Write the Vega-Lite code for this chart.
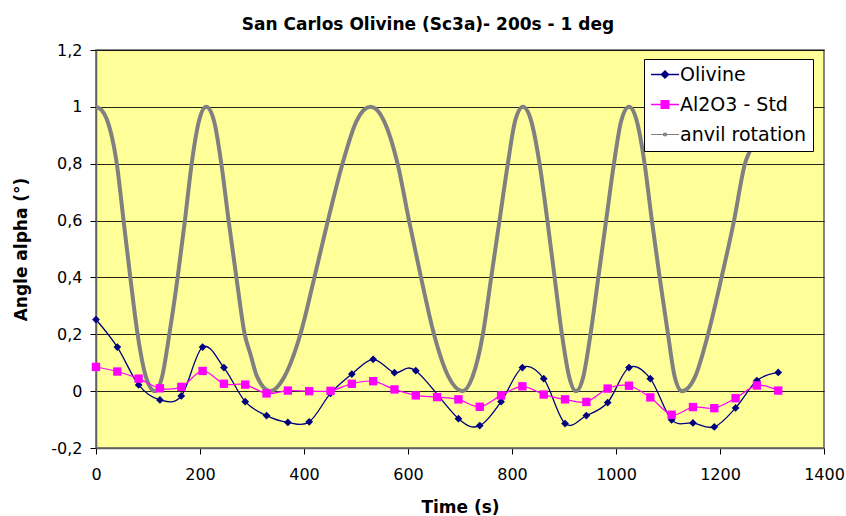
{
  "$schema": "https://vega.github.io/schema/vega-lite/v6.json",
  "autosize": {"type": "none"},
  "width": 728,
  "height": 398,
  "padding": {"left": 96, "top": 50, "right": 22, "bottom": 68},
  "background": "white",
  "title": {
    "text": "San Carlos Olivine (Sc3a)- 200s - 1 deg",
    "font": "DejaVu Sans",
    "fontSize": 17,
    "fontWeight": "bold",
    "color": "black",
    "anchor": "middle",
    "dx": -32,
    "offset": 8
  },
  "config": {
    "view": {"fill": "#FFFF99", "stroke": "#606060", "strokeWidth": 1.5},
    "axis": {
      "labelFont": "DejaVu Sans",
      "labelFontSize": 16,
      "labelColor": "black",
      "titleFont": "DejaVu Sans",
      "titleFontSize": 17,
      "titleFontWeight": "bold",
      "titleColor": "black",
      "tickColor": "black",
      "tickSize": 6,
      "domainColor": "#606060",
      "domainWidth": 1.5
    }
  },
  "datasets": {
    "obs": [
      {"series": "Olivine", "t": 0, "v": 0.252},
      {"series": "Olivine", "t": 41, "v": 0.155},
      {"series": "Olivine", "t": 82, "v": 0.022},
      {"series": "Olivine", "t": 123, "v": -0.031},
      {"series": "Olivine", "t": 164, "v": -0.017},
      {"series": "Olivine", "t": 205, "v": 0.155},
      {"series": "Olivine", "t": 246, "v": 0.083},
      {"series": "Olivine", "t": 287, "v": -0.037},
      {"series": "Olivine", "t": 328, "v": -0.086},
      {"series": "Olivine", "t": 369, "v": -0.11},
      {"series": "Olivine", "t": 410, "v": -0.108},
      {"series": "Olivine", "t": 451, "v": -0.008},
      {"series": "Olivine", "t": 492, "v": 0.06},
      {"series": "Olivine", "t": 533, "v": 0.112},
      {"series": "Olivine", "t": 574, "v": 0.065},
      {"series": "Olivine", "t": 615, "v": 0.072},
      {"series": "Olivine", "t": 697, "v": -0.097},
      {"series": "Olivine", "t": 738, "v": -0.121},
      {"series": "Olivine", "t": 779, "v": -0.037},
      {"series": "Olivine", "t": 820, "v": 0.083},
      {"series": "Olivine", "t": 861, "v": 0.044},
      {"series": "Olivine", "t": 902, "v": -0.114},
      {"series": "Olivine", "t": 943, "v": -0.086},
      {"series": "Olivine", "t": 984, "v": -0.04},
      {"series": "Olivine", "t": 1025, "v": 0.083},
      {"series": "Olivine", "t": 1066, "v": 0.044},
      {"series": "Olivine", "t": 1107, "v": -0.101},
      {"series": "Olivine", "t": 1148, "v": -0.112},
      {"series": "Olivine", "t": 1189, "v": -0.126},
      {"series": "Olivine", "t": 1230, "v": -0.059},
      {"series": "Olivine", "t": 1271, "v": 0.037},
      {"series": "Olivine", "t": 1312, "v": 0.066},
      {"series": "Al2O3 - Std", "t": 0, "v": 0.085},
      {"series": "Al2O3 - Std", "t": 41, "v": 0.069},
      {"series": "Al2O3 - Std", "t": 82, "v": 0.044},
      {"series": "Al2O3 - Std", "t": 123, "v": 0.01},
      {"series": "Al2O3 - Std", "t": 164, "v": 0.015},
      {"series": "Al2O3 - Std", "t": 205, "v": 0.071},
      {"series": "Al2O3 - Std", "t": 246, "v": 0.026},
      {"series": "Al2O3 - Std", "t": 287, "v": 0.023},
      {"series": "Al2O3 - Std", "t": 328, "v": -0.008},
      {"series": "Al2O3 - Std", "t": 369, "v": 0.002},
      {"series": "Al2O3 - Std", "t": 410, "v": 0.0},
      {"series": "Al2O3 - Std", "t": 451, "v": 0.001},
      {"series": "Al2O3 - Std", "t": 492, "v": 0.026},
      {"series": "Al2O3 - Std", "t": 533, "v": 0.035},
      {"series": "Al2O3 - Std", "t": 574, "v": 0.006},
      {"series": "Al2O3 - Std", "t": 615, "v": -0.015},
      {"series": "Al2O3 - Std", "t": 656, "v": -0.021},
      {"series": "Al2O3 - Std", "t": 697, "v": -0.029},
      {"series": "Al2O3 - Std", "t": 738, "v": -0.055},
      {"series": "Al2O3 - Std", "t": 779, "v": -0.015},
      {"series": "Al2O3 - Std", "t": 820, "v": 0.017},
      {"series": "Al2O3 - Std", "t": 861, "v": -0.012},
      {"series": "Al2O3 - Std", "t": 902, "v": -0.029},
      {"series": "Al2O3 - Std", "t": 943, "v": -0.038},
      {"series": "Al2O3 - Std", "t": 984, "v": 0.009},
      {"series": "Al2O3 - Std", "t": 1025, "v": 0.019},
      {"series": "Al2O3 - Std", "t": 1066, "v": -0.022},
      {"series": "Al2O3 - Std", "t": 1107, "v": -0.083},
      {"series": "Al2O3 - Std", "t": 1148, "v": -0.056},
      {"series": "Al2O3 - Std", "t": 1189, "v": -0.06},
      {"series": "Al2O3 - Std", "t": 1230, "v": -0.025},
      {"series": "Al2O3 - Std", "t": 1271, "v": 0.02},
      {"series": "Al2O3 - Std", "t": 1312, "v": 0.002}
    ],
    "anvil": [
      {"t": 0, "v": 1.0}, {"t": 10, "v": 0.99}, {"t": 20, "v": 0.96}, {"t": 40, "v": 0.8},
      {"t": 53, "v": 0.6}, {"t": 66, "v": 0.4}, {"t": 80, "v": 0.2}, {"t": 96, "v": 0.05},
      {"t": 113, "v": 0.0}, {"t": 127, "v": 0.05}, {"t": 141, "v": 0.2}, {"t": 157, "v": 0.4},
      {"t": 171, "v": 0.6}, {"t": 184, "v": 0.8}, {"t": 198, "v": 0.95}, {"t": 212, "v": 1.0},
      {"t": 227, "v": 0.95}, {"t": 241, "v": 0.8}, {"t": 255, "v": 0.6}, {"t": 270, "v": 0.4},
      {"t": 286, "v": 0.2}, {"t": 297, "v": 0.13}, {"t": 310, "v": 0.05}, {"t": 335, "v": 0.0},
      {"t": 362, "v": 0.05}, {"t": 393, "v": 0.2}, {"t": 420, "v": 0.4}, {"t": 446, "v": 0.6},
      {"t": 474, "v": 0.8}, {"t": 501, "v": 0.95}, {"t": 528, "v": 1.0}, {"t": 554, "v": 0.95},
      {"t": 580, "v": 0.8}, {"t": 602, "v": 0.6}, {"t": 625, "v": 0.4}, {"t": 650, "v": 0.2},
      {"t": 678, "v": 0.05}, {"t": 705, "v": 0.0}, {"t": 724, "v": 0.05}, {"t": 744, "v": 0.2},
      {"t": 760, "v": 0.4}, {"t": 776, "v": 0.6}, {"t": 792, "v": 0.8}, {"t": 806, "v": 0.95},
      {"t": 821, "v": 1.0}, {"t": 837, "v": 0.95}, {"t": 853, "v": 0.8}, {"t": 868, "v": 0.6},
      {"t": 882, "v": 0.4}, {"t": 896, "v": 0.2}, {"t": 910, "v": 0.05}, {"t": 923, "v": 0.0},
      {"t": 937, "v": 0.05}, {"t": 951, "v": 0.2}, {"t": 966, "v": 0.4}, {"t": 981, "v": 0.6},
      {"t": 996, "v": 0.8}, {"t": 1010, "v": 0.95}, {"t": 1025, "v": 1.0}, {"t": 1040, "v": 0.95},
      {"t": 1055, "v": 0.8}, {"t": 1069, "v": 0.6}, {"t": 1084, "v": 0.4}, {"t": 1100, "v": 0.2},
      {"t": 1113, "v": 0.05}, {"t": 1127, "v": 0.0}, {"t": 1152, "v": 0.05}, {"t": 1177, "v": 0.2},
      {"t": 1203, "v": 0.4}, {"t": 1227, "v": 0.6}, {"t": 1248, "v": 0.8}, {"t": 1261, "v": 0.86},
      {"t": 1275, "v": 0.93}, {"t": 1290, "v": 0.99}, {"t": 1305, "v": 1.0}, {"t": 1312, "v": 0.995}
    ]
  },
  "layer": [
    {
      "data": {"name": "anvil"},
      "mark": {"type": "line", "color": "#808080", "strokeWidth": 4, "interpolate": "monotone"},
      "encoding": {
        "x": {
          "field": "t", "type": "quantitative",
          "scale": {"domain": [0, 1400], "nice": false, "zero": false},
          "axis": {
            "values": [0, 200, 400, 600, 800, 1000, 1200, 1400],
            "format": "d",
            "grid": false,
            "title": "Time (s)",
            "labelPadding": 12,
            "titlePadding": 17,
            "labelFlush": false
          }
        },
        "y": {
          "field": "v", "type": "quantitative",
          "scale": {"domain": [-0.2, 1.2], "nice": false, "zero": false},
          "axis": {
            "values": [-0.2, 0, 0.2, 0.4, 0.6, 0.8, 1, 1.2],
            "grid": true,
            "gridColor": "black",
            "gridWidth": 1,
            "gridOpacity": 0.85,
            "title": "Angle alpha (°)",
            "labelPadding": 8,
            "titlePadding": 20,
            "labelExpr": "replace(replace(format(datum.value, '.2~f'), '.', ','), '−', '-')"
          }
        }
      }
    },
    {
      "data": {"name": "obs"},
      "transform": [{"filter": "datum.series === 'Olivine'"}],
      "mark": {"type": "line", "color": "#000080", "strokeWidth": 1.3, "interpolate": "cardinal"},
      "encoding": {
        "x": {"field": "t", "type": "quantitative"},
        "y": {"field": "v", "type": "quantitative"}
      }
    },
    {
      "data": {"name": "obs"},
      "transform": [{"filter": "datum.series === 'Olivine'"}],
      "mark": {"type": "point", "shape": "diamond", "filled": true, "color": "#000080", "size": 60, "opacity": 1},
      "encoding": {
        "x": {"field": "t", "type": "quantitative"},
        "y": {"field": "v", "type": "quantitative"}
      }
    },
    {
      "data": {"name": "obs"},
      "transform": [{"filter": "datum.series === 'Al2O3 - Std'"}],
      "mark": {"type": "line", "color": "#FF00FF", "strokeWidth": 1.2, "interpolate": "cardinal"},
      "encoding": {
        "x": {"field": "t", "type": "quantitative"},
        "y": {"field": "v", "type": "quantitative"}
      }
    },
    {
      "data": {"name": "obs"},
      "transform": [{"filter": "datum.series === 'Al2O3 - Std'"}],
      "mark": {"type": "point", "shape": "square", "filled": true, "color": "#FF00FF", "size": 70, "opacity": 1},
      "encoding": {
        "x": {"field": "t", "type": "quantitative"},
        "y": {"field": "v", "type": "quantitative"}
      }
    },
    {
      "data": {"name": "obs"},
      "mark": {"type": "point", "filled": true, "opacity": 0, "size": 1},
      "encoding": {
        "x": {"field": "t", "type": "quantitative"},
        "y": {"field": "v", "type": "quantitative"},
        "color": {
          "field": "series", "type": "nominal",
          "scale": {"domain": ["Olivine", "Al2O3 - Std", "anvil rotation"], "range": ["#000080", "#FF00FF", "#808080"]},
          "legend": {
            "title": null,
            "orient": "none",
            "legendX": 548,
            "legendY": 9,
            "padding": 6,
            "symbolSize": 324,
            "labelFont": "DejaVu Sans",
            "labelFontSize": 19,
            "labelColor": "black",
            "labelOffset": 11,
            "rowPadding": 10,
            "strokeColor": "black",
            "fillColor": "white",
            "labelLimit": 300,
            "encode": {
              "symbols": {
                "update": {
                  "fill": {"scale": "color", "field": "value"},
                  "stroke": {"scale": "color", "field": "value"},
                  "strokeWidth": {"signal": "datum.value === 'anvil rotation' ? 1 : 1.5"},
                  "opacity": {"value": 1}
                }
              }
            }
          }
        },
        "shape": {
          "field": "series", "type": "nominal",
          "scale": {
            "domain": ["Olivine", "Al2O3 - Std", "anvil rotation"],
            "range": [
              "M-0.94,0H2.17M0.22,0L0.61,-0.39L1,0L0.61,0.39Z",
              "M-0.94,0H2.17M0.19,-0.42H1.03V0.42H0.19Z",
              "M-0.94,0H2.17M0.46,-0.15H0.76V0.15H0.46Z"
            ]
          },
          "legend": {
            "title": null,
            "orient": "none",
            "legendX": 548,
            "legendY": 9,
            "padding": 6,
            "symbolSize": 324,
            "labelFont": "DejaVu Sans",
            "labelFontSize": 19,
            "labelColor": "black",
            "labelOffset": 11,
            "rowPadding": 10,
            "strokeColor": "black",
            "fillColor": "white",
            "labelLimit": 300,
            "encode": {
              "symbols": {
                "update": {
                  "fill": {"scale": "color", "field": "value"},
                  "stroke": {"scale": "color", "field": "value"},
                  "strokeWidth": {"signal": "datum.value === 'anvil rotation' ? 1 : 1.5"},
                  "opacity": {"value": 1}
                }
              }
            }
          }
        }
      }
    }
  ]
}
